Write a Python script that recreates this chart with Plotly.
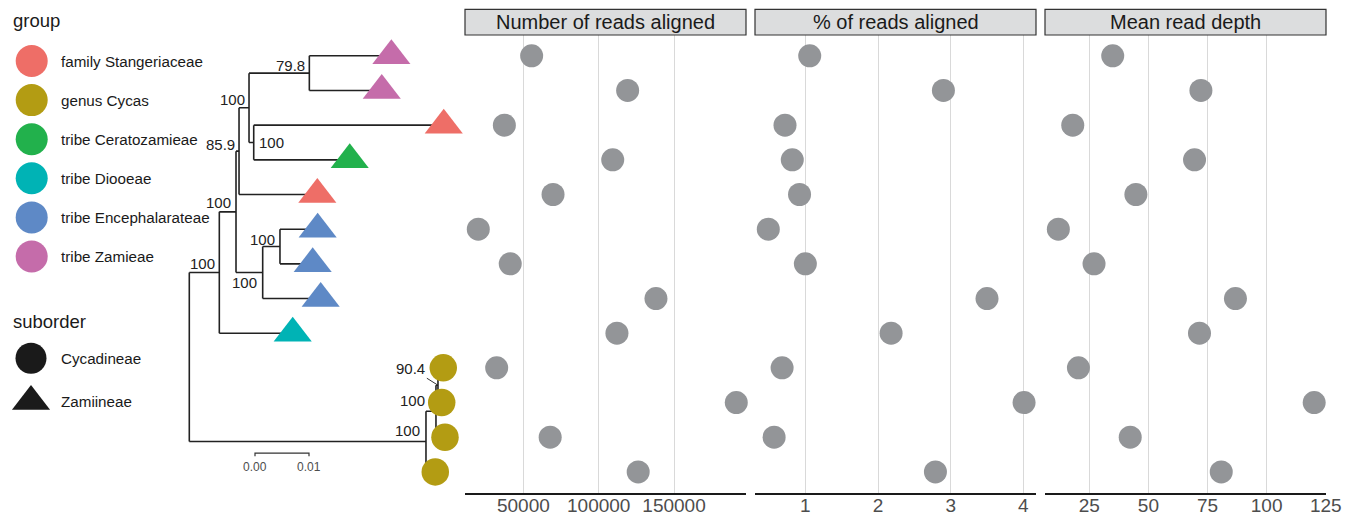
import plotly.graph_objects as go

W, H = 1354, 517
FONT = "Liberation Sans, Arial, Helvetica, sans-serif"

# ---------------- data ----------------
group_names = ["family Stangeriaceae", "genus Cycas", "tribe Ceratozamieae",
               "tribe Diooeae", "tribe Encephalarateae", "tribe Zamieae"]
group_colors = ["#EE6E67", "#B39C13", "#22B14C", "#00B3B5", "#5E89C6", "#C56CAA"]
suborder_names = ["Cycadineae", "Zamiineae"]
suborder_symbols = ["circle", "triangle-up"]

tip_ids = ["Z1", "Z2", "S1", "C1", "S2", "E1", "E2", "E3", "D1", "Y1", "Y2", "Y3", "Y4"]
tip_group = ["tribe Zamieae", "tribe Zamieae", "family Stangeriaceae", "tribe Ceratozamieae",
             "family Stangeriaceae", "tribe Encephalarateae", "tribe Encephalarateae",
             "tribe Encephalarateae", "tribe Diooeae", "genus Cycas", "genus Cycas",
             "genus Cycas", "genus Cycas"]
tip_suborder = ["Zamiineae"] * 9 + ["Cycadineae"] * 4

# tree edges (parent -> child, branch length)
edge_parent = ["root", "root", "nIng", "nIng", "nA", "nA", "n859", "n859", "n100a", "n100a",
               "n798", "n798", "n100b", "n100b", "nEnc", "nEnc", "n100c", "n100c",
               "nC1", "nC1", "nC2", "nC2", "nC3", "nC3"]
edge_child = ["nIng", "nC1", "nA", "D1", "n859", "nEnc", "n100a", "S2", "n798", "n100b",
              "Z1", "Z2", "S1", "C1", "n100c", "E3", "E1", "E2",
              "nC2", "Y4", "nC3", "Y3", "Y1", "Y2"]
edge_length = [0.00556, 0.04383, 0.00309, 0.01359, 0.00056, 0.00494, 0.00185, 0.01450,
               0.01117, 0.00087, 0.01519, 0.01341, 0.03519, 0.01778, 0.00320, 0.01074,
               0.00698, 0.00606, 0.00185, 0.00172, 0.00037, 0.00167, 0.00098, 0.00069]

support_nodes = ["n798", "n100a", "n859", "n100b", "nA", "n100c", "nEnc", "nIng", "nC3", "nC2", "nC1"]
support_values = ["79.8", "100", "85.9", "100", "100", "100", "100", "100", "90.4", "100", "100"]

metric_titles = ["Number of reads aligned", "% of reads aligned", "Mean read depth"]
reads_aligned = [55500, 119200, 37400, 109300, 69700, 20100, 41300, 138000, 112100,
                 32300, 191300, 67800, 126200]
pct_aligned = [1.06, 2.90, 0.72, 0.82, 0.92, 0.49, 1.00, 3.50, 2.18, 0.68, 4.01, 0.57, 2.79]
mean_depth = [34.9, 72.2, 18.0, 69.5, 44.7, 11.9, 27.0, 86.8, 71.6, 20.4, 120.1, 42.3, 80.8]

tick_vals = [[50000, 100000, 150000], [1, 2, 3, 4], [25, 50, 75, 100, 125]]
tick_text = [["50000", "100000", "150000"], ["1", "2", "3", "4"], ["25", "50", "75", "100", "125"]]
x_ranges = [[11280, 197740], [0.307, 4.174], [6.26, 125.1]]

scale_width = 0.01
scale_labels = ["0.00", "0.01"]

# ---------------- tree layout ----------------
children, blen = {}, {}
for p, c, l in zip(edge_parent, edge_child, edge_length):
    children.setdefault(p, []).append(c)
    blen[c] = l

xpos = {"root": 0.0}


def set_x(n):
    for c in children.get(n, []):
        xpos[c] = xpos[n] + blen[c]
        set_x(c)


set_x("root")
ypos = {t: i + 1 for i, t in enumerate(tip_ids)}


def set_y(n):
    if n in ypos:
        return ypos[n]
    ys = [set_y(c) for c in children[n]]
    ypos[n] = sum(ys) / len(ys)
    return ypos[n]


set_y("root")

lx, ly = [], []
for p, c in zip(edge_parent, edge_child):
    lx += [xpos[p], xpos[c], None]
    ly += [ypos[c], ypos[c], None]
for n, ch in children.items():
    ys = [ypos[c] for c in ch]
    lx += [xpos[n], xpos[n], None]
    ly += [min(ys), max(ys), None]

# ---------------- geometry ----------------
plot_top, plot_bot = 35.0, 492.7
strip_top = 9.3
ydom = [(H - plot_bot) / H, (H - plot_top) / H]
yrange = [len(tip_ids) + 0.6, 0.4]
px_per_unit = 5400.0
root_px = 189.3
tree_dom_px = [135.0, 465.0]
tree_range = [(tree_dom_px[0] - root_px) / px_per_unit, (tree_dom_px[1] - root_px) / px_per_unit]
panel_px = [[465.0, 746.0], [755.0, 1036.0], [1045.0, 1326.0]]

fig = go.Figure()

# tree branches
fig.add_trace(go.Scatter(x=lx, y=ly, mode="lines", line=dict(color="#222222", width=1.6),
                         xaxis="x", yaxis="y", hoverinfo="skip", showlegend=False))

# tip points
col_of = dict(zip(group_names, group_colors))
sym_of = dict(zip(suborder_names, suborder_symbols))
size_of = {"circle": 27.5, "triangle-up": 33}
fig.add_trace(go.Scatter(
    x=[xpos[t] for t in tip_ids], y=[ypos[t] for t in tip_ids], mode="markers",
    marker=dict(color=[col_of[g] for g in tip_group],
                symbol=[sym_of[s] for s in tip_suborder], opacity=1,
                size=[size_of[sym_of[s]] for s in tip_suborder], line=dict(width=0)),
    xaxis="x", yaxis="y", cliponaxis=False, showlegend=False, hoverinfo="skip"))

# scale bar
sb_x0 = (255.0 - root_px) / px_per_unit
sb_y = 12.46
fig.add_trace(go.Scatter(x=[sb_x0, sb_x0, sb_x0 + scale_width, sb_x0 + scale_width],
                         y=[sb_y + 0.09, sb_y, sb_y, sb_y + 0.09], mode="lines",
                         line=dict(color="#333333", width=1.2), xaxis="x", yaxis="y",
                         hoverinfo="skip", showlegend=False, cliponaxis=False))

annotations = []
for xv, lab in zip([sb_x0, sb_x0 + scale_width], scale_labels):
    annotations.append(dict(x=xv, y=12.85, xref="x", yref="y", text=lab, showarrow=False,
                            font=dict(family=FONT, size=12, color="#4D4D4D"),
                            xanchor="center", yanchor="middle"))

# node support labels: (xanchor, xshift, yshift)
label_style = {
    "n798": ("right", -2.5, 8), "n100a": ("right", -2.3, 8), "n859": ("right", -2.3, 7),
    "n100b": ("left", 3, 0), "nA": ("right", -3, 9), "n100c": ("right", -2.7, 7),
    "nEnc": ("right", -3.7, -10), "nIng": ("right", -2.6, 9), "nC2": ("right", -8.7, 11),
    "nC1": ("right", -3.7, 11),
}
for n, v in zip(support_nodes, support_values):
    if n == "nC3":
        annotations.append(dict(x=xpos[n], y=ypos[n], xref="x", yref="y", text=v,
                                showarrow=True, arrowhead=0, arrowwidth=1, arrowcolor="#333333",
                                ax=-27, ay=-17, standoff=1,
                                font=dict(family=FONT, size=15, color="#222222")))
        continue
    xa, xs, ys = label_style[n]
    annotations.append(dict(x=xpos[n], y=ypos[n], xref="x", yref="y", text=v, showarrow=False,
                            xanchor=xa, yanchor="middle", xshift=xs, yshift=ys,
                            font=dict(family=FONT, size=15, color="#222222")))

# panels
metrics = [reads_aligned, pct_aligned, mean_depth]
shapes = []
for i, vals in enumerate(metrics):
    ax = "x%d" % (i + 2)
    fig.add_trace(go.Scatter(x=vals, y=list(range(1, len(vals) + 1)), mode="markers",
                             marker=dict(color="#939598", size=23, opacity=1, line=dict(width=0)),
                             xaxis=ax, yaxis="y", cliponaxis=False, showlegend=False,
                             hoverinfo="skip"))
    shapes.append(dict(type="rect", xref=ax + " domain", yref="paper", x0=0, x1=1,
                       y0=(H - plot_top) / H, y1=(H - strip_top) / H,
                       fillcolor="#DCDDDE", line=dict(color="#333333", width=1.2), layer="above"))
    annotations.append(dict(x=0.5, y=(H - (plot_top + strip_top) / 2) / H,
                            xref=ax + " domain", yref="paper", text=metric_titles[i],
                            showarrow=False, xanchor="center", yanchor="middle",
                            font=dict(family=FONT, size=20, color="#1A1A1A")))

# legend (drawn in a pixel-space axis)
leg_marks_x, leg_marks_y, leg_cols, leg_syms, leg_sizes = [], [], [], [], []
for i, (g, c) in enumerate(zip(group_names, group_colors)):
    yy = 61 + 39.1 * i
    leg_marks_x.append(31.7); leg_marks_y.append(yy)
    leg_cols.append(c); leg_syms.append("circle"); leg_sizes.append(32)
    annotations.append(dict(x=59.3, y=yy, xref="x5", yref="y5", text=g, showarrow=False,
                            xanchor="left", yanchor="middle",
                            font=dict(family=FONT, size=15.2, color="#1A1A1A")))
sub_y = [358.3, 401.0]
sub_mark_y = [358.3, 401.5]
sub_sizes = [31, 33]
for i, (s, sym) in enumerate(zip(suborder_names, suborder_symbols)):
    leg_marks_x.append(31.0); leg_marks_y.append(sub_mark_y[i])
    leg_cols.append("#1A1A1A"); leg_syms.append(sym); leg_sizes.append(sub_sizes[i])
    annotations.append(dict(x=59.3, y=sub_y[i], xref="x5", yref="y5", text=s, showarrow=False,
                            xanchor="left", yanchor="middle",
                            font=dict(family=FONT, size=15.2, color="#1A1A1A")))
for t, yy in [("group", 20.5), ("suborder", 321)]:
    annotations.append(dict(x=10.5, y=yy, xref="x5", yref="y5", text=t, showarrow=False,
                            xanchor="left", yanchor="middle",
                            font=dict(family=FONT, size=18.5, color="#1A1A1A")))
fig.add_trace(go.Scatter(x=leg_marks_x, y=leg_marks_y, mode="markers",
                         marker=dict(color=leg_cols, symbol=leg_syms, size=leg_sizes, opacity=1,
                                     line=dict(width=0)),
                         xaxis="x5", yaxis="y5", cliponaxis=False, showlegend=False,
                         hoverinfo="skip"))

hidden = dict(showgrid=False, zeroline=False, showticklabels=False, showline=False, ticks="",
              automargin=False)
layout = dict(
    width=W, height=H, autosize=False,
    margin=dict(l=0, r=0, t=0, b=0, pad=0, autoexpand=False),
    paper_bgcolor="white", plot_bgcolor="rgba(0,0,0,0)", showlegend=False,
    font=dict(family=FONT),
    xaxis=dict(domain=[tree_dom_px[0] / W, tree_dom_px[1] / W], range=tree_range,
               anchor="y", **hidden),
    yaxis=dict(domain=ydom, range=yrange, anchor="x", **hidden),
    xaxis5=dict(domain=[0, 180 / W], range=[0, 180], anchor="y5", **hidden),
    yaxis5=dict(domain=[0, 1], range=[H, 0], anchor="x5", **hidden),
    shapes=shapes, annotations=annotations,
)
for i in range(3):
    layout["xaxis%d" % (i + 2)] = dict(
        domain=[panel_px[i][0] / W, panel_px[i][1] / W], range=x_ranges[i], anchor="y",
        tickmode="array", tickvals=tick_vals[i], ticktext=tick_text[i], automargin=False,
        showgrid=True, gridcolor="#D9D9D9", gridwidth=1.3, zeroline=False,
        showline=True, linecolor="#1A1A1A", linewidth=1.5, ticks="", ticklabelstandoff=-5,
        tickfont=dict(family=FONT, size=19, color="#4D4D4D"))
fig.update_layout(**layout)

fig.write_html(
    "out.html",
    config={"displayModeBar": False},
    post_script=("document.body.style.margin='0';document.body.style.overflow='hidden';"
                 "document.documentElement.style.overflow='hidden';"),
)
